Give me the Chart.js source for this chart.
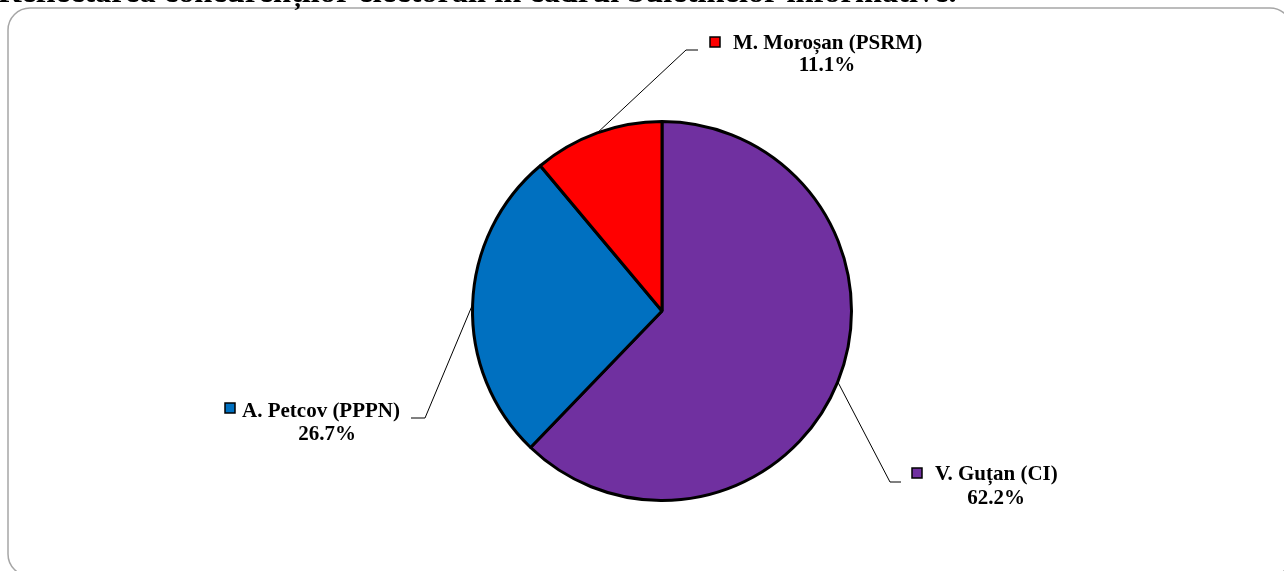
<!DOCTYPE html>
<html>
<head>
<meta charset="utf-8">
<script src="https://cdn.jsdelivr.net/npm/chart.js@4"></script>
<style>
  html, body { margin: 0; padding: 0; background: #fff; overflow: hidden; }
  #wrap { position: relative; width: 1284px; height: 571px; }
</style>
</head>
<body>
<div id="wrap"><canvas id="pieChart" width="1284" height="571"></canvas></div>
<script>
// Chart data
const candidates = ['V. Guțan (CI)', 'A. Petcov (PPPN)', 'M. Moroșan (PSRM)'];
const shares = [62.2, 26.7, 11.1];
const sliceColors = ['#7030A0', '#0070C0', '#FF0000'];
const titleText = 'Reflectarea concurenților electorali în cadrul buletinelor informative.';

// where each callout label sits (line elbow, line end, key box, text)
const calloutLayout = [
    { elbow: [890, 482], end: [901, 482], box: [912, 468], textX: 935, y1: 475, pctX: 996, y2: 499 },
    { elbow: [425, 418], end: [411, 418], box: [225, 403], textX: 242, y1: 412, pctX: 327, y2: 435 },
    { elbow: [686, 50], end: [698, 50], box: [710, 37], textX: 733, y1: 44, pctX: 827, y2: 66 }
];

const LABEL_FONT = 'bold 21px "Liberation Serif", "Times New Roman", serif';

// rounded frame + cut-off title
const framePlugin = {
    id: 'frame',
    beforeDraw(chart) {
        const ctx = chart.ctx;
        ctx.save();
        ctx.strokeStyle = '#A6A6A6';
        ctx.lineWidth = 1.5;
        ctx.beginPath();
        ctx.roundRect(8, 8, 1284, 568, 22);
        ctx.stroke();

        ctx.fillStyle = '#000';
        ctx.font = 'bold 100px "Liberation Serif", serif';
        const w = ctx.measureText(titleText).width;
        const size = 100 * 958 / w;
        ctx.font = 'bold ' + size.toFixed(1) + 'px "Liberation Serif", serif';
        ctx.textBaseline = 'alphabetic';
        ctx.fillText(titleText, -2, 2);
        ctx.restore();
    }
};

// callout labels with leader lines
const calloutPlugin = {
    id: 'callouts',
    afterDatasetsDraw(chart) {
        const ctx = chart.ctx;
        const meta = chart.getDatasetMeta(0);
        ctx.save();
        meta.data.forEach((arc, i) => {
            const p = arc.getProps(['x', 'y', 'startAngle', 'endAngle', 'outerRadius'], true);
            const mid = (p.startAngle + p.endAngle) / 2;
            const ax = p.x + Math.cos(mid) * p.outerRadius;
            const ay = p.y + Math.sin(mid) * p.outerRadius;
            const L = calloutLayout[i];

            ctx.strokeStyle = '#000';
            ctx.lineWidth = 1;
            ctx.beginPath();
            ctx.moveTo(ax, ay);
            ctx.lineTo(L.elbow[0], L.elbow[1]);
            ctx.lineTo(L.end[0], L.end[1]);
            ctx.stroke();

            // legend key
            ctx.fillStyle = sliceColors[i];
            ctx.fillRect(L.box[0], L.box[1], 10, 10);
            ctx.lineWidth = 1.5;
            ctx.strokeRect(L.box[0], L.box[1], 10, 10);

            ctx.fillStyle = '#000';
            ctx.font = LABEL_FONT;
            ctx.textBaseline = 'middle';
            ctx.textAlign = 'left';
            ctx.fillText(candidates[i], L.textX, L.y1);
            ctx.textAlign = 'center';
            ctx.fillText(shares[i].toFixed(1) + '%', L.pctX, L.y2);
        });
        ctx.restore();
    }
};

const pieChartCtx = document.getElementById('pieChart').getContext('2d');
const pieChart = new Chart(pieChartCtx, {
    type: 'pie',
    data: {
        labels: candidates,
        datasets: [{
            data: shares,
            backgroundColor: sliceColors,
            borderColor: '#000',
            borderWidth: 3
        }]
    },
    options: {
        responsive: false,
        animation: false,
        layout: {
            padding: { left: 471, right: 431, top: 120, bottom: 69 }
        },
        plugins: {
            legend: { display: false },
            tooltip: { enabled: false }
        }
    },
    plugins: [framePlugin, calloutPlugin]
});
</script>
</body>
</html>
